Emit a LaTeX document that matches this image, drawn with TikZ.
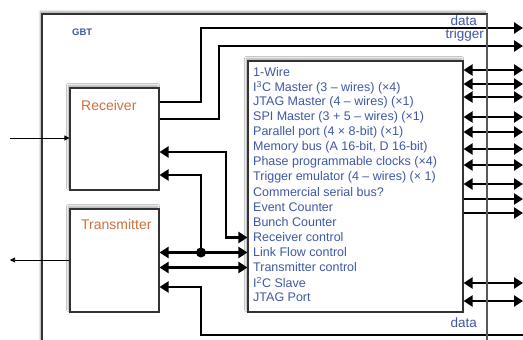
\documentclass[tikz,border=0pt]{standalone}
\usepackage{fontspec}
\setmainfont{Liberation Sans}
\usetikzlibrary{arrows.meta,shadows.blur}
\definecolor{gbtblue}{RGB}{62,88,166}
\definecolor{gbtorange}{RGB}{204,112,62}

\begin{document}
\begin{tikzpicture}[x=1pt,y=-1pt,
  block/.style={draw=black!80,line width=1.1pt,fill=white,inner sep=0pt,
    blur shadow={shadow xshift=-1.5pt,shadow yshift=2.5pt,shadow blur steps=6,shadow opacity=35}},
  title/.style={text=gbtorange,font=\fontsize{14}{16}\selectfont,anchor=base west,inner sep=0pt},
  item/.style={text=gbtblue,font=\fontsize{12.5}{15}\selectfont,anchor=west,inner sep=0pt},
  lbl/.style={text=gbtblue,font=\fontsize{13.5}{15}\selectfont,anchor=base east,inner sep=0pt},
  bus/.style={line width=2.4pt,-{Triangle[length=9pt,width=11pt]}},
  busboth/.style={line width=2.4pt,{Triangle[length=9pt,width=11pt]}-{Triangle[length=9pt,width=11pt]}},
  wire/.style={line width=0.6pt,-{Triangle[length=5pt,width=5pt]}}]
\useasboundingbox (0,0) rectangle (523,340);

% outer chip
\node[block,line width=1.2pt,minimum width=445pt,minimum height=346pt] (gbt) at (264.5,187) {};
\node[text=gbtblue,font=\fontsize{9.5}{11}\selectfont\bfseries,anchor=base west,inner sep=0pt] (gbtt) at (72,35) {GBT};

% blocks
\node[block,minimum width=89pt,minimum height=102pt] (rx) at (114.5,139) {};
\node[title] (rxt) at (81,110) {Receiver};
\node[block,minimum width=89pt,minimum height=103pt] (tx) at (114.5,260.5) {};
\node[title] (txt) at (81,229) {Transmitter};
\node[block,minimum width=215pt,minimum height=251pt] (ctrl) at (355.5,186.5) {};

\foreach \t [count=\i] in {1-Wire,
    {I\textsuperscript{3}C Master (3 – wires) (×4)},
    {JTAG Master (4 – wires) (×1)},
    {SPI Master (3 + 5 – wires) (×1)},
    {Parallel port (4 × 8-bit) (×1)},
    {Memory bus (A 16-bit, D 16-bit)},
    {Phase programmable clocks (×4)},
    {Trigger emulator (4 – wires) (× 1)},
    {Commercial serial bus?},
    Event Counter,
    Bunch Counter,
    Receiver control,
    Link Flow control,
    Transmitter control,
    {I\textsuperscript{2}C Slave},
    JTAG Port}
  \node[item] (it\i) at (253,{57.5+15*\i}) {\t};

% labels
\node[lbl] (ldata) at (477,25) {data};
\node[lbl] (ltrig) at (484,38) {trigger};
\node[lbl] (ldatab) at (477,327) {data};

% receiver outputs
\draw[bus] (rx.east |- 0,102) -| (201,28) -- (523,28);
\draw[bus] (rx.east |- 0,119) -| (219,46) -- (523,46);

% control links
\draw[busboth] (rx.east |- 0,152) -| (226,237.5) -- (ctrl.west |- it12);
\draw[busboth] (tx.east |- it13) -- (ctrl.west |- it13);
\coordinate (jn) at (201,252.5);
\fill (jn) circle (5pt);
\draw[bus] (jn) |- (rx.east |- 0,175);
\draw[busboth] (tx.east |- it14) -- (ctrl.west |- it14);
\draw[bus] (523,335) -| (201,287) -- (tx.east |- 0,287);

% external pins
\foreach \y in {70,84,97,117,132,149,165,184,283,301}
  \draw[busboth] (ctrl.east |- 0,\y) -- (523,\y);
\foreach \y in {199,213}
  \draw[bus] (ctrl.east |- 0,\y) -- (523,\y);

% chip edge over the pins
\draw[black!65,line width=1.1pt] (487,14) -- (487,340);

% serial line
\draw[wire] (10,138) -- (rx.west |- 0,138);
\draw[wire] (tx.west |- 0,260) -- (10,260);
\end{tikzpicture}
\end{document}
